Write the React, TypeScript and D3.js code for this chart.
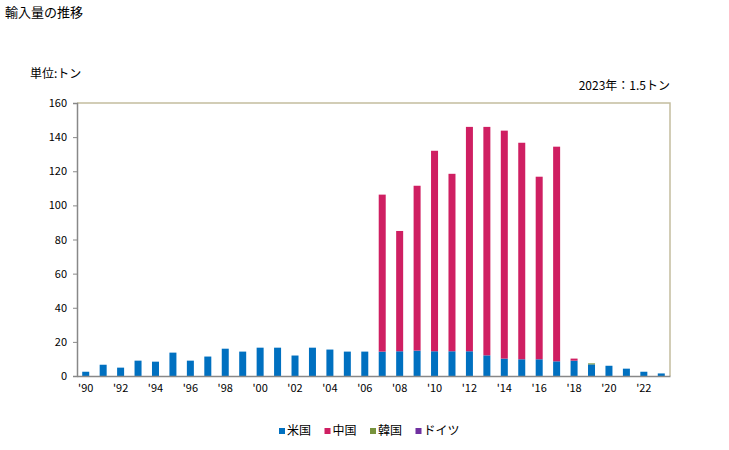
import * as d3 from "d3";
import React, { useEffect, useRef } from "react";

const years = d3.range(1990, 2024).map(String);
const seriesNames = ["米国", "中国", "韓国", "ドイツ"];
const colors = ["#0070c0", "#cf1f62", "#77933c", "#7030a0"];

// 米国
const usa = [2.5, 6.6, 4.9, 9, 8.4, 13.7, 9, 11.4, 16, 14.3, 16.6, 16.6, 12, 16.6, 15.5, 14.3, 14.3, 14.3, 14.5, 14.9, 14.5, 14.5, 14.5, 12.1, 10.2, 9.8, 9.8, 8.6, 9, 6.8, 6.0, 4.3, 2.5, 1.5];
// 中国
const china = [0, 0, 0, 0, 0, 0, 0, 0, 0, 0, 0, 0, 0, 0, 0, 0, 0, 92, 70.5, 96.6, 117.5, 104, 131.5, 133.9, 133.6, 126.9, 107, 125.8, 1.2, 0, 0, 0, 0, 0];
// 韓国
const korea = [0, 0, 0, 0, 0, 0, 0, 0, 0, 0, 0, 0, 0, 0, 0, 0, 0, 0, 0, 0, 0, 0, 0, 0, 0, 0, 0, 0, 0, 0.6, 0, 0, 0, 0];
// ドイツ
const germany = years.map(() => 0);

const yTicks = [0, 20, 40, 60, 80, 100, 120, 140, 160];

const font = "'Noto Sans CJK JP', sans-serif";

export default function App() {
  const ref = useRef<SVGSVGElement | null>(null);

  useEffect(() => {
    const svg = d3.select(ref.current);
    svg.selectAll("*").remove();

    const width = 729;
    const height = 450;
    const m = { left: 77, right: 670, top: 103, bottom: 376 };

    const rows = years.map((y, i) => ({
      year: y,
      米国: usa[i],
      中国: china[i],
      韓国: korea[i],
      ドイツ: germany[i],
    }));

    const x = d3.scaleBand().domain(years).range([m.left, m.right]);
    const y = d3.scaleLinear().domain([0, 160]).range([m.bottom, m.top]);
    const color = d3.scaleOrdinal<string>().domain(seriesNames).range(colors);

    const stack = d3.stack<any>().keys(seriesNames);
    const layers = stack(rows);

    const barW = 7;

    svg
      .selectAll("g.layer")
      .data(layers)
      .enter()
      .append("g")
      .attr("fill", (d) => color(d.key))
      .selectAll("rect")
      .data((d) => d)
      .enter()
      .append("rect")
      .attr("x", (d) => x(d.data.year)! + x.bandwidth() / 2 - barW / 2)
      .attr("y", (d) => y(d[1]))
      .attr("width", barW)
      .attr("height", (d) => Math.max(0, y(d[0]) - y(d[1])));

    // frame
    svg
      .append("path")
      .attr("d", `M${m.left},${m.top}H${m.right}V${m.bottom}`)
      .attr("fill", "none")
      .attr("stroke", "#c4bd9f")
      .attr("stroke-width", 1.5);

    const yAxis = svg
      .append("g")
      .attr("transform", `translate(${m.left},0)`)
      .call(d3.axisLeft(y).tickValues(yTicks).tickSize(4).tickPadding(6));
    yAxis.select(".domain").attr("stroke", "#888").attr("stroke-width", 1.5);
    yAxis.selectAll(".tick line").attr("stroke", "#888");
    yAxis.selectAll("text").attr("font-family", font).attr("font-size", 11).attr("fill", "#000");

    const xAxis = svg
      .append("g")
      .attr("transform", `translate(0,${m.bottom})`)
      .call(
        d3
          .axisBottom(x)
          .tickValues(years.filter((_, i) => i % 2 === 0))
          .tickSize(0)
          .tickPadding(8)
          .tickFormat((d) => "'" + d.slice(2))
      );
    xAxis.select(".domain").attr("stroke", "#888").attr("stroke-width", 1.5);
    xAxis.selectAll("text").attr("font-family", font).attr("font-size", 11).attr("fill", "#000");

    svg
      .append("text")
      .attr("x", 5)
      .attr("y", 17)
      .attr("font-family", font)
      .attr("font-size", 13)
      .text("輸入量の推移");

    svg
      .append("text")
      .attr("x", 30)
      .attr("y", 78)
      .attr("font-family", font)
      .attr("font-size", 12)
      .text("単位:トン");

    svg
      .append("text")
      .attr("x", 670)
      .attr("y", 90)
      .attr("text-anchor", "end")
      .attr("font-family", font)
      .attr("font-size", 12)
      .text("2023年：1.5トン");

    const legend = svg.append("g").attr("transform", "translate(279,428)");
    seriesNames.forEach((name, i) => {
      const xo = i * 45.5;
      legend
        .append("rect")
        .attr("x", xo)
        .attr("y", 0)
        .attr("width", 6)
        .attr("height", 6)
        .attr("fill", color(name));
      legend
        .append("text")
        .attr("x", xo + 8)
        .attr("y", 7)
        .attr("font-family", font)
        .attr("font-size", 12)
        .text(name);
    });
  }, []);

  return (
    <svg
      ref={ref}
      width={729}
      height={450}
      style={{ position: "absolute", left: 0, top: 0, background: "#fff" }}
    />
  );
}
